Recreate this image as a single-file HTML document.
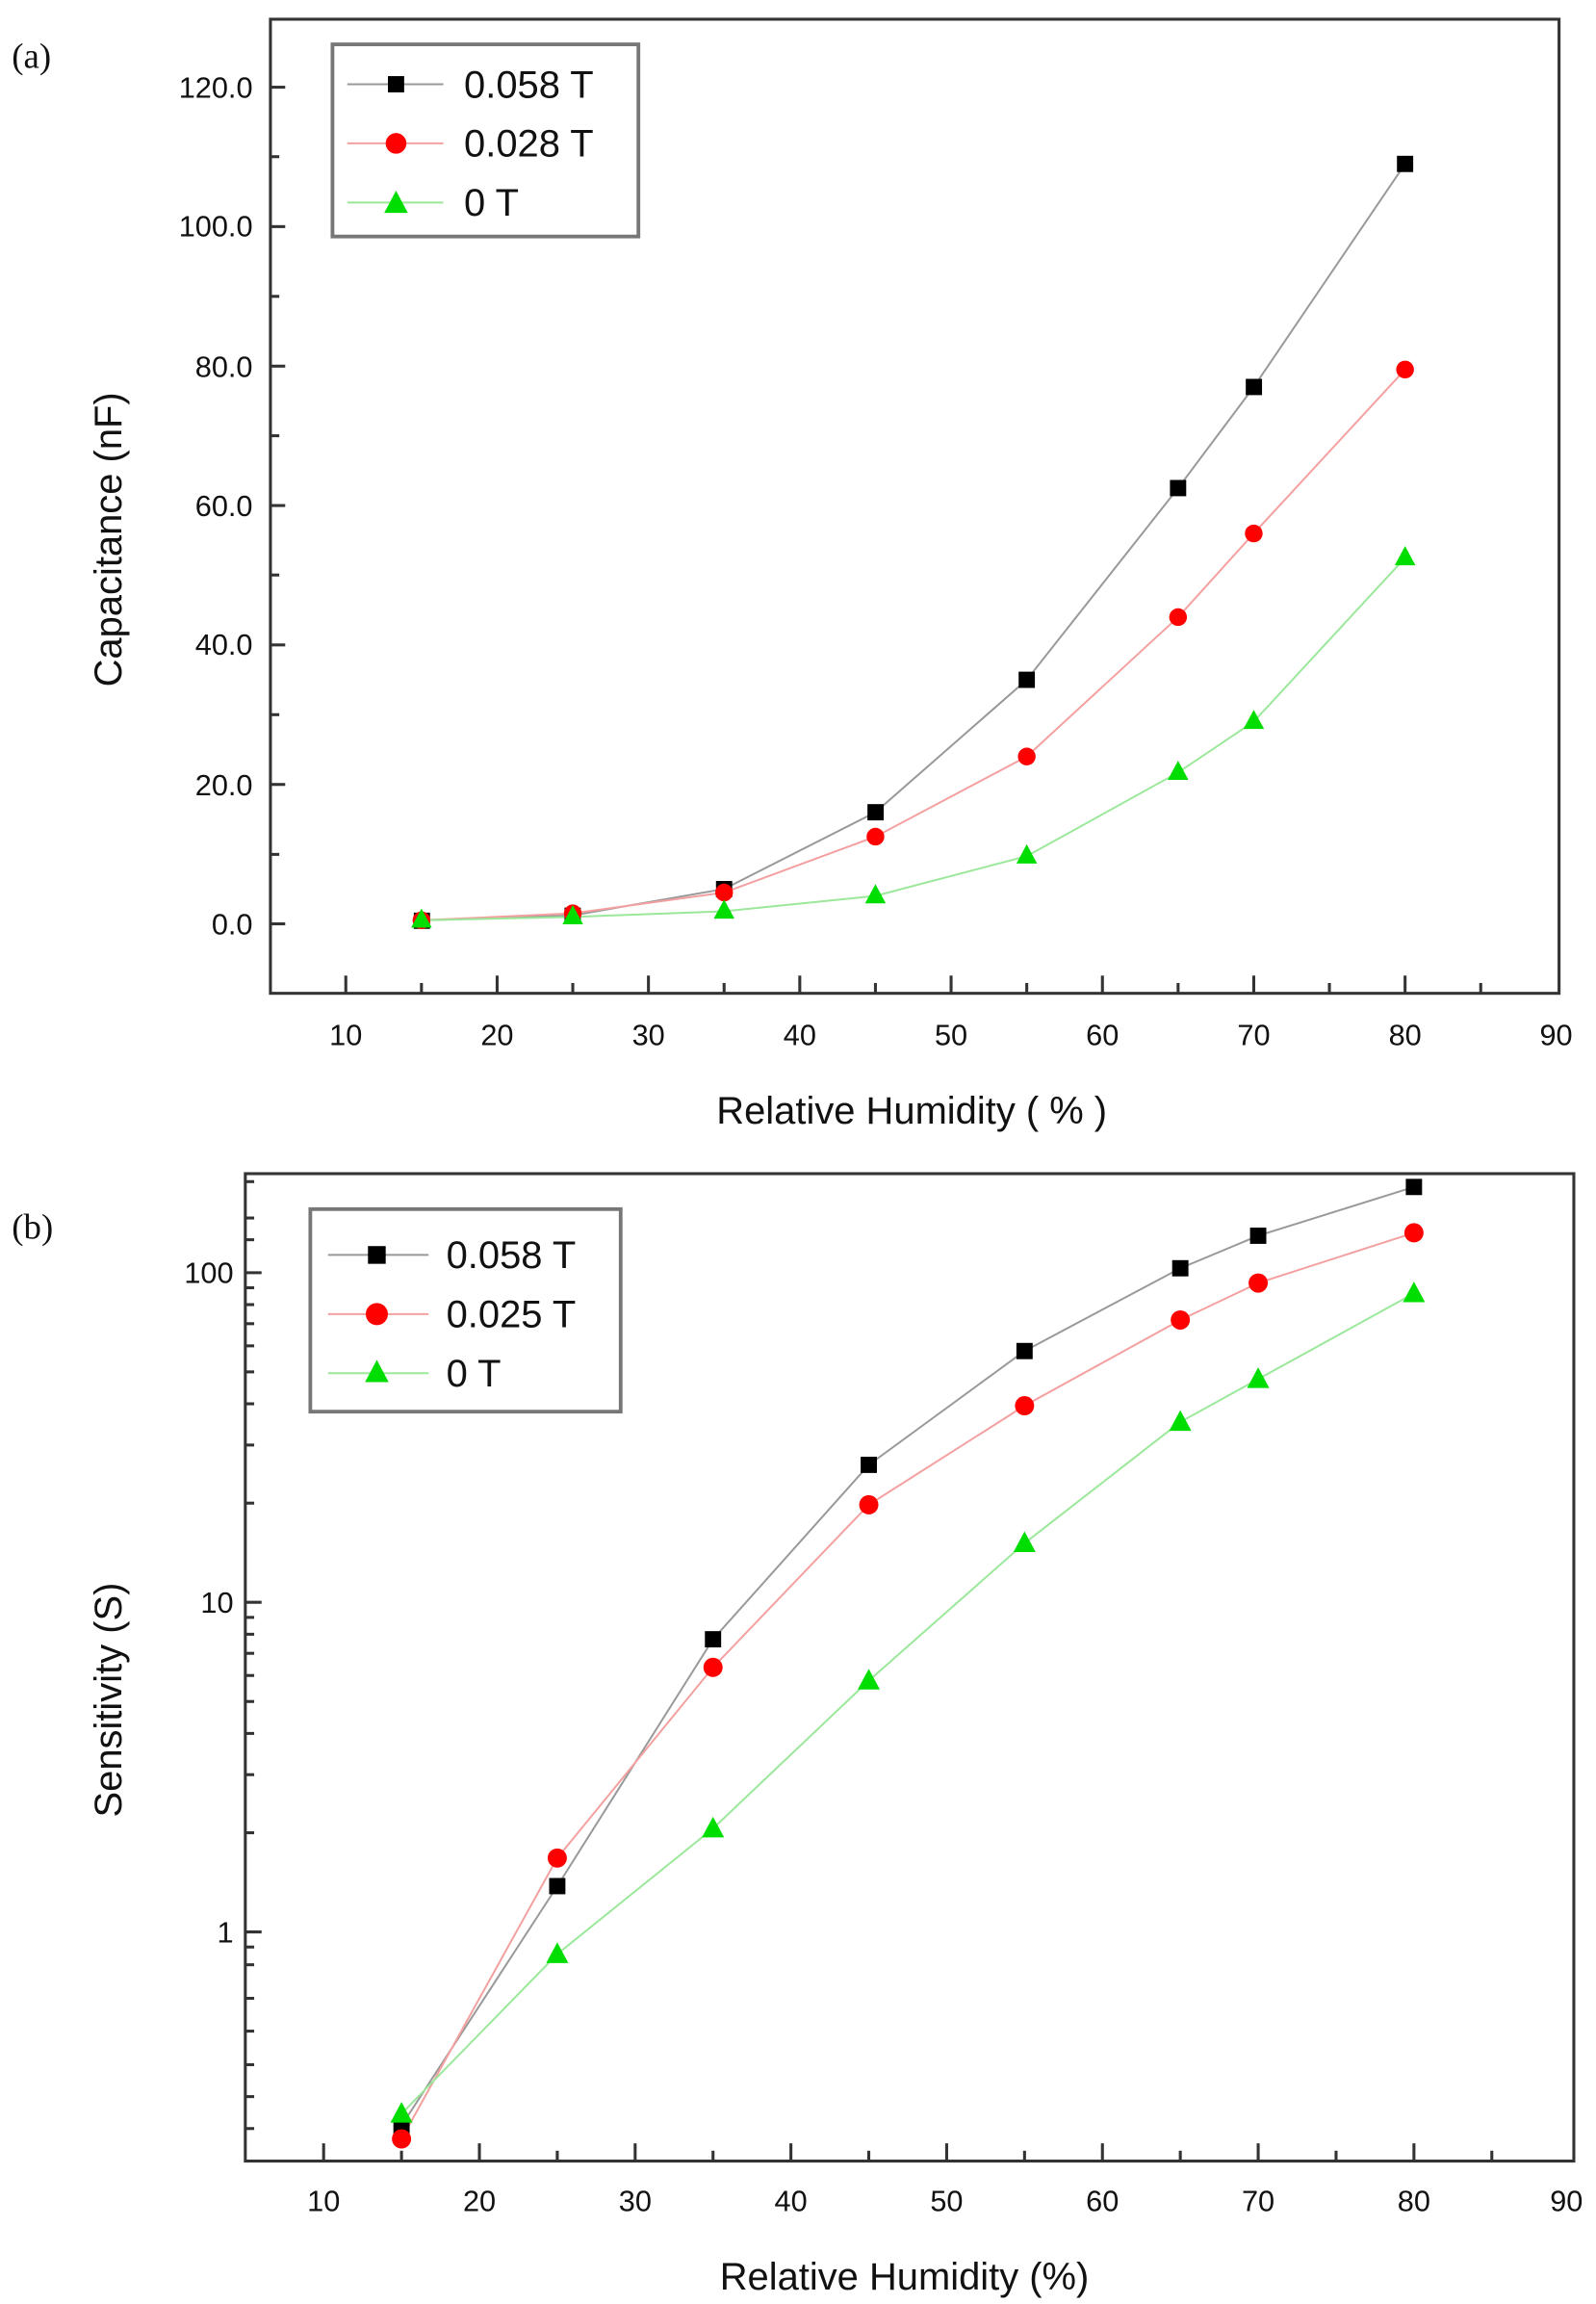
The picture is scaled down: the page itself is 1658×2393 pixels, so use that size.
<!DOCTYPE html>
<html><head><meta charset="utf-8"><style>
html,body{margin:0;padding:0;background:#fff;}
svg{display:block;}
text{font-family:"Liberation Sans",Arial,sans-serif;fill:#111;}
</style></head><body>
<svg width="1658" height="2393" viewBox="0 0 1080 1558.7" preserveAspectRatio="none" xmlns="http://www.w3.org/2000/svg">
<!-- Panel a -->
<text x="8" y="46" style="font-family:'Liberation Serif',serif;font-size:24px">(a)</text>
<rect x="183" y="13" width="872" height="659" fill="none" stroke="#333" stroke-width="2"/>
<g stroke="#333" stroke-width="2">
<!-- y major ticks -->
<line x1="183" y1="59" x2="193" y2="59"/><line x1="183" y1="153.3" x2="193" y2="153.3"/><line x1="183" y1="247.7" x2="193" y2="247.7"/><line x1="183" y1="342" x2="193" y2="342"/><line x1="183" y1="436.3" x2="193" y2="436.3"/><line x1="183" y1="530.7" x2="193" y2="530.7"/><line x1="183" y1="625" x2="193" y2="625"/>
<!-- y minor -->
<line x1="183" y1="106" x2="189" y2="106"/><line x1="183" y1="200.5" x2="189" y2="200.5"/><line x1="183" y1="294.8" x2="189" y2="294.8"/><line x1="183" y1="389" x2="189" y2="389"/><line x1="183" y1="483.5" x2="189" y2="483.5"/><line x1="183" y1="578" x2="189" y2="578"/>
<!-- x ticks -->
<line x1="234" y1="672" x2="234" y2="660"/><line x1="336.4" y1="672" x2="336.4" y2="660"/><line x1="438.8" y1="672" x2="438.8" y2="660"/><line x1="541.2" y1="672" x2="541.2" y2="660"/><line x1="643.6" y1="672" x2="643.6" y2="660"/><line x1="746" y1="672" x2="746" y2="660"/><line x1="848.4" y1="672" x2="848.4" y2="660"/><line x1="950.8" y1="672" x2="950.8" y2="660"/>
<line x1="285.2" y1="672" x2="285.2" y2="665"/><line x1="387.6" y1="672" x2="387.6" y2="665"/><line x1="490" y1="672" x2="490" y2="665"/><line x1="592.4" y1="672" x2="592.4" y2="665"/><line x1="694.8" y1="672" x2="694.8" y2="665"/><line x1="797.2" y1="672" x2="797.2" y2="665"/><line x1="899.6" y1="672" x2="899.6" y2="665"/><line x1="1002" y1="672" x2="1002" y2="665"/>
</g>
<g font-size="20" text-anchor="end">
<text x="171" y="66">120.0</text><text x="171" y="160">100.0</text><text x="171" y="255">80.0</text><text x="171" y="349">60.0</text><text x="171" y="443">40.0</text><text x="171" y="538">20.0</text><text x="171" y="632">0.0</text>
</g>
<g font-size="20" text-anchor="middle">
<text x="234" y="707">10</text><text x="336.4" y="707">20</text><text x="438.8" y="707">30</text><text x="541.2" y="707">40</text><text x="643.6" y="707">50</text><text x="746" y="707">60</text><text x="848.4" y="707">70</text><text x="950.8" y="707">80</text><text x="1053" y="707">90</text>
</g>
<text x="617" y="760" font-size="26" text-anchor="middle">Relative Humidity ( % )</text>
<text transform="translate(82,365) rotate(-90)" font-size="26" text-anchor="middle">Capacitance (nF)</text>
<!-- series a: x=15,25,35,45,55,65,70,80 -> 285.2,387.6,490,592.4,694.8,797.2,848.4,950.8 ; y=625-4.7167*v -->
<polyline fill="none" stroke="#999" stroke-width="1.3" points="285.2,622.6 387.6,619.3 490,601.4 592.4,549.5 694.8,459.9 797.2,330.2 848.4,261.8 950.8,110.9"/>
<polyline fill="none" stroke="#f4a0a0" stroke-width="1.3" points="285.2,622.6 387.6,617.9 490,603.8 592.4,566 694.8,511.8 797.2,417.5 848.4,360.9 950.8,250"/>
<polyline fill="none" stroke="#9be89b" stroke-width="1.3" points="285.2,622.6 387.6,620.3 490,616.5 592.4,606.1 694.8,579.2 797.2,522.6 848.4,488.2 950.8,377.4"/>
<g fill="#000"><rect x="280" y="617.4" width="11" height="11"/><rect x="382" y="614" width="11" height="11"/><rect x="484.5" y="596" width="11" height="11"/><rect x="587" y="544" width="11" height="11"/><rect x="689.3" y="454.4" width="11" height="11"/><rect x="791.7" y="324.7" width="11" height="11"/><rect x="843" y="256.3" width="11" height="11"/><rect x="945.3" y="105.4" width="11" height="11"/></g>
<g fill="#f00"><circle cx="285.2" cy="622.6" r="6"/><circle cx="387.6" cy="617.9" r="6"/><circle cx="490" cy="603.8" r="6"/><circle cx="592.4" cy="566" r="6"/><circle cx="694.8" cy="511.8" r="6"/><circle cx="797.2" cy="417.5" r="6"/><circle cx="848.4" cy="360.9" r="6"/><circle cx="950.8" cy="250" r="6"/></g>
<g fill="#0d0">
<polygon points="285.2,614.6 278.2,627.6 292.2,627.6"/><polygon points="387.6,612.3 380.6,625.3 394.6,625.3"/><polygon points="490,608.5 483,621.5 497,621.5"/><polygon points="592.4,598.1 585.4,611.1 599.4,611.1"/><polygon points="694.8,571.2 687.8,584.2 701.8,584.2"/><polygon points="797.2,514.6 790.2,527.6 804.2,527.6"/><polygon points="848.4,480.2 841.4,493.2 855.4,493.2"/><polygon points="950.8,369.4 943.8,382.4 957.8,382.4"/>
</g>
<!-- legend a -->
<rect x="225" y="30" width="207" height="130" fill="#fff" stroke="#777" stroke-width="2.5"/>
<line x1="235" y1="57" x2="300" y2="57" stroke="#999" stroke-width="1.3"/><rect x="262.5" y="51.5" width="11" height="11" fill="#000"/>
<line x1="235" y1="97" x2="300" y2="97" stroke="#f4a0a0" stroke-width="1.3"/><circle cx="268" cy="97" r="7" fill="#f00"/>
<line x1="235" y1="137" x2="300" y2="137" stroke="#9be89b" stroke-width="1.3"/><polygon points="268,129 260,144 276,144" fill="#0d0"/>
<g font-size="26"><text x="314" y="66">0.058 T</text><text x="314" y="106">0.028 T</text><text x="314" y="146">0 T</text></g>

<!-- Panel b -->
<text x="8" y="838" style="font-family:'Liberation Serif',serif;font-size:24px">(b)</text>
<rect x="166" y="794" width="899" height="668" fill="none" stroke="#333" stroke-width="2"/>
<g stroke="#333" stroke-width="2">
<line x1="166" y1="861" x2="177" y2="861"/><line x1="166" y1="1084" x2="177" y2="1084"/><line x1="166" y1="1307" x2="177" y2="1307"/>
<!-- minor log ticks: y=base-223*log10(k) -->
<line x1="166" y1="1239.9" x2="172" y2="1239.9"/><line x1="166" y1="1200.6" x2="172" y2="1200.6"/><line x1="166" y1="1172.7" x2="172" y2="1172.7"/><line x1="166" y1="1151.1" x2="172" y2="1151.1"/><line x1="166" y1="1133.5" x2="172" y2="1133.5"/><line x1="166" y1="1118.5" x2="172" y2="1118.5"/><line x1="166" y1="1105.6" x2="172" y2="1105.6"/><line x1="166" y1="1094.2" x2="172" y2="1094.2"/>
<line x1="166" y1="1016.9" x2="172" y2="1016.9"/><line x1="166" y1="977.6" x2="172" y2="977.6"/><line x1="166" y1="949.7" x2="172" y2="949.7"/><line x1="166" y1="928.1" x2="172" y2="928.1"/><line x1="166" y1="910.5" x2="172" y2="910.5"/><line x1="166" y1="895.5" x2="172" y2="895.5"/><line x1="166" y1="882.6" x2="172" y2="882.6"/><line x1="166" y1="871.2" x2="172" y2="871.2"/>
<line x1="166" y1="1418.4" x2="172" y2="1418.4"/><line x1="166" y1="1396.8" x2="172" y2="1396.8"/><line x1="166" y1="1374.1" x2="172" y2="1374.1"/><line x1="166" y1="1351.9" x2="172" y2="1351.9"/><line x1="166" y1="1329.2" x2="172" y2="1329.2"/><line x1="166" y1="1317.2" x2="172" y2="1317.2"/><line x1="166" y1="1440" x2="172" y2="1440"/>
<line x1="166" y1="838.7" x2="172" y2="838.7"/><line x1="166" y1="824" x2="172" y2="824"/><line x1="166" y1="799.4" x2="172" y2="799.4"/>
<!-- x ticks -->
<line x1="219" y1="1462" x2="219" y2="1450"/><line x1="324.4" y1="1462" x2="324.4" y2="1450"/><line x1="429.8" y1="1462" x2="429.8" y2="1450"/><line x1="535.2" y1="1462" x2="535.2" y2="1450"/><line x1="640.6" y1="1462" x2="640.6" y2="1450"/><line x1="746" y1="1462" x2="746" y2="1450"/><line x1="851.4" y1="1462" x2="851.4" y2="1450"/><line x1="956.8" y1="1462" x2="956.8" y2="1450"/>
<line x1="271.7" y1="1462" x2="271.7" y2="1455"/><line x1="377.1" y1="1462" x2="377.1" y2="1455"/><line x1="482.5" y1="1462" x2="482.5" y2="1455"/><line x1="587.9" y1="1462" x2="587.9" y2="1455"/><line x1="693.3" y1="1462" x2="693.3" y2="1455"/><line x1="798.7" y1="1462" x2="798.7" y2="1455"/><line x1="904.1" y1="1462" x2="904.1" y2="1455"/><line x1="1009.5" y1="1462" x2="1009.5" y2="1455"/>
</g>
<g font-size="20" text-anchor="end"><text x="158" y="868">100</text><text x="158" y="1091">10</text><text x="158" y="1314">1</text></g>
<g font-size="20" text-anchor="middle">
<text x="219" y="1496">10</text><text x="324.4" y="1496">20</text><text x="429.8" y="1496">30</text><text x="535.2" y="1496">40</text><text x="640.6" y="1496">50</text><text x="746" y="1496">60</text><text x="851.4" y="1496">70</text><text x="956.8" y="1496">80</text><text x="1060" y="1496">90</text>
</g>
<text x="612" y="1549" font-size="26" text-anchor="middle">Relative Humidity (%)</text>
<text transform="translate(82,1150) rotate(-90)" font-size="26" text-anchor="middle">Sensitivity (S)</text>
<!-- x: 271.7,377.1,482.5,587.9,693.3,798.7,851.4,956.8 -->
<polyline fill="none" stroke="#999" stroke-width="1.3" points="271.7,1438 377.1,1276 482.5,1109 587.9,991 693.3,914 798.7,858 851.4,836 956.8,803"/>
<polyline fill="none" stroke="#f4a0a0" stroke-width="1.3" points="271.7,1447 377.1,1257 482.5,1128 587.9,1018 693.3,951 798.7,893 851.4,868 956.8,834"/>
<polyline fill="none" stroke="#9be89b" stroke-width="1.3" points="271.7,1430 377.1,1322 482.5,1237 587.9,1137 693.3,1044 798.7,962 851.4,933 956.8,875"/>
<g fill="#000"><rect x="266.2" y="1432.5" width="11" height="11"/><rect x="371.6" y="1270.5" width="11" height="11"/><rect x="477" y="1103.5" width="11" height="11"/><rect x="582.4" y="985.5" width="11" height="11"/><rect x="687.8" y="908.5" width="11" height="11"/><rect x="793.2" y="852.5" width="11" height="11"/><rect x="845.9" y="830.5" width="11" height="11"/><rect x="951.3" y="797.5" width="11" height="11"/></g>
<g fill="#f00"><circle cx="271.7" cy="1447" r="6.5"/><circle cx="377.1" cy="1257" r="6.5"/><circle cx="482.5" cy="1128" r="6.5"/><circle cx="587.9" cy="1018" r="6.5"/><circle cx="693.3" cy="951" r="6.5"/><circle cx="798.7" cy="893" r="6.5"/><circle cx="851.4" cy="868" r="6.5"/><circle cx="956.8" cy="834" r="6.5"/></g>
<g fill="#0d0">
<polygon points="271.7,1422 264.2,1436 279.2,1436"/><polygon points="377.1,1314 369.6,1328 384.6,1328"/><polygon points="482.5,1229 475,1243 490,1243"/><polygon points="587.9,1129 580.4,1143 595.4,1143"/><polygon points="693.3,1036 685.8,1050 700.8,1050"/><polygon points="798.7,954 791.2,968 806.2,968"/><polygon points="851.4,925 843.9,939 858.9,939"/><polygon points="956.8,867 949.3,881 964.3,881"/>
</g>
<!-- legend b -->
<rect x="210" y="818" width="210" height="137" fill="#fff" stroke="#777" stroke-width="2.5"/>
<line x1="222" y1="849" x2="290" y2="849" stroke="#999" stroke-width="1.3"/><rect x="249" y="843" width="12" height="12" fill="#000"/>
<line x1="222" y1="889" x2="290" y2="889" stroke="#f4a0a0" stroke-width="1.3"/><circle cx="255" cy="889" r="7.5" fill="#f00"/>
<line x1="222" y1="929" x2="290" y2="929" stroke="#9be89b" stroke-width="1.3"/><polygon points="255,920 247,935 263,935" fill="#0d0"/>
<g font-size="26"><text x="302" y="858">0.058 T</text><text x="302" y="898">0.025 T</text><text x="302" y="938">0 T</text></g>
</svg>
</body></html>
